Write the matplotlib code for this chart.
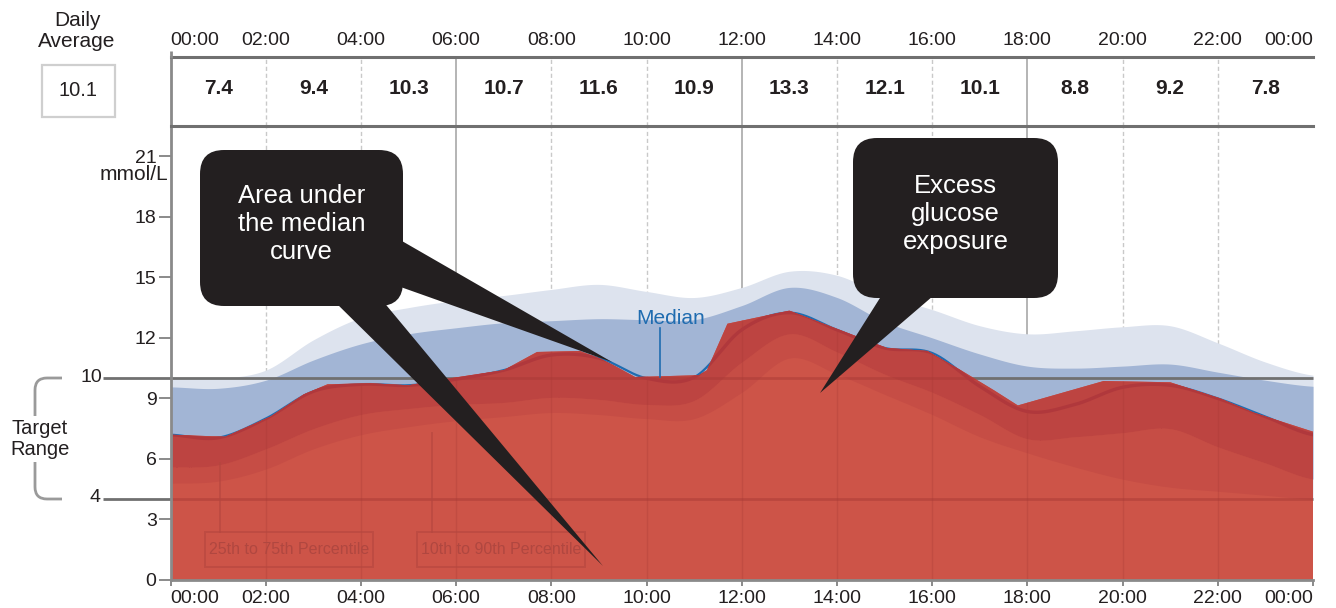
import numpy as np
import matplotlib
matplotlib.use("Agg")
import matplotlib.pyplot as plt
from matplotlib.patches import FancyBboxPatch, Polygon, Rectangle, PathPatch
from matplotlib.path import Path
import matplotlib.transforms as mtransforms

plt.rcParams['font.family'] = ['Liberation Sans', 'DejaVu Sans']

# ---------------------------------------------------------------- data
hours = np.arange(0, 25)

p90 = [10.05, 10.0, 10.4, 11.9, 13.0, 13.5, 13.85, 14.1, 14.4, 14.65, 14.3, 14.0,
       14.5, 15.3, 15.1, 14.1, 13.4, 12.6, 12.2, 12.35, 12.55, 12.6, 11.75, 10.8, 10.15]
p75 = [9.57, 9.5, 9.9, 10.9, 11.7, 12.2, 12.5, 12.75, 12.85, 12.95, 12.9, 12.9,
       13.6, 14.5, 14.0, 12.8, 12.0, 11.2, 10.6, 10.5, 10.6, 10.7, 10.3, 9.9, 9.6]
median = [7.2, 7.05, 8.0, 9.35, 9.7, 9.65, 9.95, 10.4, 11.15, 11.0, 10.0, 10.05,
          12.4, 13.25, 12.4, 11.5, 11.25, 9.6, 8.35, 8.7, 9.55, 9.65, 9.0, 8.1, 7.2]
p25 = [5.6, 5.7, 6.5, 7.5, 8.2, 8.5, 8.7, 8.8, 9.05, 8.95, 8.7, 8.9,
       10.8, 12.2, 11.3, 10.2, 9.3, 8.2, 7.0, 7.1, 7.3, 7.5, 6.6, 5.8, 5.0]
p10 = [4.8, 4.9, 5.5, 6.5, 7.2, 7.6, 7.9, 8.1, 8.3, 8.2, 8.0, 8.0,
       9.3, 11.0, 10.2, 9.2, 8.2, 7.1, 6.3, 5.6, 5.0, 4.6, 4.4, 4.2, 4.0]

# outline of the shaded area under the median curve
area_t = [0, 1.15, 2.1, 2.8, 3.3, 4.2, 5.0, 5.6, 7.0, 7.7, 8.6, 9.0, 9.3, 9.76,
          11.1, 11.27, 11.7, 13.0, 15.05, 15.9, 16.6, 17.3, 17.8, 19.6, 21.0,
          22.05, 22.75, 24]
area_v = [7.2, 7.1, 8.1, 9.2, 9.7, 9.75, 9.65, 9.9, 10.4, 11.3, 11.35, 11.0, 10.65,
          10.06, 10.15, 10.4, 12.7, 13.35, 11.5, 11.35, 10.4, 9.4, 8.65, 9.86, 9.8,
          9.0, 8.3, 7.35]

period_ticks = list(range(0, 25, 2))
period_labels = ['00:00', '02:00', '04:00', '06:00', '08:00', '10:00', '12:00',
                 '14:00', '16:00', '18:00', '20:00', '22:00', '00:00']
period_means = [7.4, 9.4, 10.3, 10.7, 11.6, 10.9, 13.3, 12.1, 10.1, 8.8, 9.2, 7.8]
daily_average = 10.1
y_ticks = [0, 3, 6, 9, 12, 15, 18, 21]
target_low, target_high = 4, 10

# ---------------------------------------------------------------- colours
C_TEXT = '#231f20'
C_PALE = '#dde3ee'
C_MID = '#a2b5d5'
C_RED = '#cd5448'
C_RED_MID = '#c64d45'
C_RED_DARK = '#bd4441'
C_MEDIAN = '#b0383c'
C_BLUE = '#1f6cb0'
C_AXIS = '#8a8a8a'
C_RULE = '#707070'


def smooth(x, y, n=24):
    """Catmull-Rom curve through the given points (for drawing)."""
    x = np.asarray(x, float)
    y = np.asarray(y, float)
    yp = np.concatenate([[y[0]], y, [y[-1]]])
    xs, ys = [], []
    s = np.linspace(0, 1, n, endpoint=False)
    for i in range(len(x) - 1):
        p0, p1, p2, p3 = yp[i], yp[i + 1], yp[i + 2], yp[i + 3]
        seg = 0.5 * ((2 * p1) + (-p0 + p2) * s + (2 * p0 - 5 * p1 + 4 * p2 - p3) * s ** 2
                     + (-p0 + 3 * p1 - 3 * p2 + p3) * s ** 3)
        xs.append(x[i] + (x[i + 1] - x[i]) * s)
        ys.append(seg)
    xs.append([x[-1]])
    ys.append([y[-1]])
    return np.concatenate(xs), np.concatenate(ys)


W, H = 1336, 608
fig = plt.figure(figsize=(W / 100, H / 100), dpi=100)

L, R, T, B = 170.5, 1313, 128, 580
ax = fig.add_axes([L / W, (H - B) / H, (R - L) / W, (B - T) / H])
ax.set_xlim(0, 24)
ax.set_ylim(0, 22.4)

hdr = fig.add_axes([L / W, (H - 126) / H, (R - L) / W, (126 - 57) / H])
hdr.set_xlim(0, 24)
hdr.set_ylim(0, 1)

# ---------------------------------------------------------------- grid lines
for a in (ax, hdr):
    for h in period_ticks[1:-1]:
        if h % 6 == 0:
            a.axvline(h, color='#b4b4b4', lw=1.4, zorder=0.5)
        else:
            a.axvline(h, color='#c9c9c9', lw=1.0, ls=(0, (3, 2)), zorder=0.5)

# ---------------------------------------------------------------- percentile bands
ts, s90 = smooth(hours, p90)
_, s75 = smooth(hours, p75)
_, s25 = smooth(hours, p25)
_, s10 = smooth(hours, p10)
_, smed = smooth(hours, median)

ax.fill_between(ts, s10, s90, color=C_PALE, lw=0, zorder=1)
ax.fill_between(ts, s25, s75, color=C_MID, lw=0, zorder=2)
ax.plot(ts, smed, color=C_BLUE, lw=1.6, zorder=2.5)

# target range lines
blend = mtransforms.blended_transform_factory(ax.transAxes, ax.transData)
x0 = (103 - L) / (R - L)
for lvl in (target_low, target_high):
    ax.plot([x0, 1], [lvl, lvl], transform=blend, color=C_RULE, lw=2.0,
            clip_on=False, zorder=3, solid_capstyle='butt')

# area under the median curve (closed down to zero)
outline = [(area_t[0], 0)] + list(zip(area_t, area_v)) + [(area_t[-1], 0)]
area = Polygon(outline, closed=True, facecolor=C_RED, edgecolor='none', zorder=4)
ax.add_patch(area)
band_a = ax.fill_between(ts, s10, s25, color=C_RED_MID, lw=0, zorder=4.2)
band_b = ax.fill_between(ts, s25, s75, color=C_RED_DARK, lw=0, zorder=4.3)
band_a.set_clip_path(area)
band_b.set_clip_path(area)

inner = []
for h in period_ticks[1:-1]:
    inner.append(ax.axvline(h, color='#a83a36', lw=1.0, alpha=0.3, zorder=4.5))
for lvl in (target_low, target_high):
    inner.append(ax.axhline(lvl, color='#a83a36', lw=2.0, alpha=0.5, zorder=4.5))
for ln in inner:
    ln.set_clip_path(area)

med_line, = ax.plot(ts, smed, color=C_MEDIAN, lw=2.4, zorder=4.8)
med_line.set_clip_path(area)

# median label
ax.plot([10.28, 10.28], [10.05, 12.5], color=C_BLUE, lw=1.2, zorder=5)
ax.text(10.5, 12.5, 'Median', color=C_BLUE, fontsize=15, ha='center', va='bottom',
        zorder=5)

# ---------------------------------------------------------------- axes styling
for s in ('top', 'right'):
    ax.spines[s].set_visible(False)
for s in ('left', 'bottom'):
    ax.spines[s].set_color(C_AXIS)
    ax.spines[s].set_linewidth(2)
    ax.spines[s].set_zorder(6)
ax.set_yticks(y_ticks)
ax.set_yticklabels([str(v) for v in y_ticks])
ax.tick_params(axis='y', length=8.5, width=1.4, color=C_AXIS, pad=1.5,
               labelsize=14, labelcolor=C_TEXT)
ax.set_xticks(period_ticks)
ax.set_xticklabels(period_labels)
ax.tick_params(axis='x', length=4, width=1.4, color=C_AXIS, pad=3,
               labelsize=14, labelcolor=C_TEXT)
xl = ax.get_xticklabels()
xl[0].set_ha('left')
xl[-1].set_ha('right')

hdr.spines['right'].set_visible(False)
for s in ('top', 'bottom'):
    hdr.spines[s].set_color(C_RULE)
    hdr.spines[s].set_linewidth(2.2)
hdr.spines['left'].set_color(C_AXIS)
hdr.spines['left'].set_linewidth(2)
hdr.set_yticks([])
hdr.xaxis.tick_top()
hdr.set_xticks(period_ticks)
hdr.set_xticklabels(period_labels)
hdr.tick_params(axis='x', length=0, pad=6, labelsize=14, labelcolor=C_TEXT)
hl = hdr.get_xticklabels()
hl[0].set_ha('left')
hl[-1].set_ha('right')
for i, v in enumerate(period_means):
    hdr.text(period_ticks[i] + 1, 0.55, f'{v:.1f}', ha='center', va='center',
             fontsize=15, fontweight='bold', color=C_TEXT)

# ---------------------------------------------------------------- pixel overlay
ov = fig.add_axes([0, 0, 1, 1], zorder=10)
ov.set_xlim(0, W)
ov.set_ylim(H, 0)
ov.axis('off')
ov.patch.set_alpha(0)

# small stub of the time axis above the header
ov.plot([L, L], [51, 58], color=C_AXIS, lw=2, solid_capstyle='butt')

ov.text(168, 175, 'mmol/L', ha='right', va='center', fontsize=15, color=C_TEXT)
ov.text(102, 377, str(target_high), ha='right', va='center', fontsize=14, color=C_TEXT)
ov.text(100, 498, str(target_low), ha='right', va='center', fontsize=14, color=C_TEXT)

# daily average
ov.text(77, 31, 'Daily\nAverage', ha='center', va='center', fontsize=15,
        color=C_TEXT, linespacing=1.15)
ov.add_patch(Rectangle((42, 65), 73, 52, facecolor='white', edgecolor='#cfcfcf', lw=1.6))
ov.text(78.5, 90, f'{daily_average:.1f}', ha='center', va='center', fontsize=14.5,
        color=C_TEXT)

# target range bracket
verts = [(62, 378), (47, 378), (35, 378), (35, 390), (35, 487), (35, 499), (47, 499),
         (62, 499)]
codes = [Path.MOVETO, Path.LINETO, Path.CURVE3, Path.CURVE3, Path.LINETO, Path.CURVE3,
         Path.CURVE3, Path.LINETO]
ov.add_patch(PathPatch(Path(verts, codes), facecolor='none', edgecolor='#9a9a9a', lw=2))
ov.text(40, 439, 'Target\nRange', ha='center', va='center', fontsize=14.5,
        color=C_TEXT, linespacing=1.15,
        bbox=dict(facecolor='white', edgecolor='none', pad=2))

# percentile legend boxes
C_LEG = '#b4463f'
for (bx, lead_x, lead_y, label) in [(205, 220, 463, '25th to 75th Percentile'),
                                    (417, 432, 433, '10th to 90th Percentile')]:
    ov.plot([lead_x, lead_x], [lead_y, 532], color=C_LEG, lw=1.4, alpha=0.6)
    ov.add_patch(Rectangle((bx, 532), 168, 35, facecolor='none', edgecolor=C_LEG,
                           lw=1.4, alpha=0.6))
    ov.text(bx + 84, 550, label, ha='center', va='center', fontsize=11.5,
            color='#b04740')

# callouts
C_BOX = '#231f20'


def callout(x0, y0, x1, y1, text, wedges):
    r = 24
    ov.add_patch(FancyBboxPatch((x0 + r, y0 + r), (x1 - x0) - 2 * r, (y1 - y0) - 2 * r,
                                boxstyle=f'round,pad={r},rounding_size={r}',
                                facecolor=C_BOX, edgecolor='none'))
    for w in wedges:
        ov.add_patch(Polygon(w, closed=True, facecolor=C_BOX, edgecolor='none'))
    ov.text((x0 + x1) / 2, (y0 + y1) / 2 - 4, text, ha='center', va='center',
            fontsize=18.5, color='white', linespacing=1.2)


callout(200, 150, 403, 306, 'Area under\nthe median\ncurve',
        [[(395, 237), (395, 285), (612, 362)],
         [(333, 300), (382, 300), (603, 566)]])
callout(853, 138, 1058, 298, 'Excess\nglucose\nexposure',
        [[(885, 290), (940, 290), (820, 393)]])

fig.savefig('out.png', dpi=100)
